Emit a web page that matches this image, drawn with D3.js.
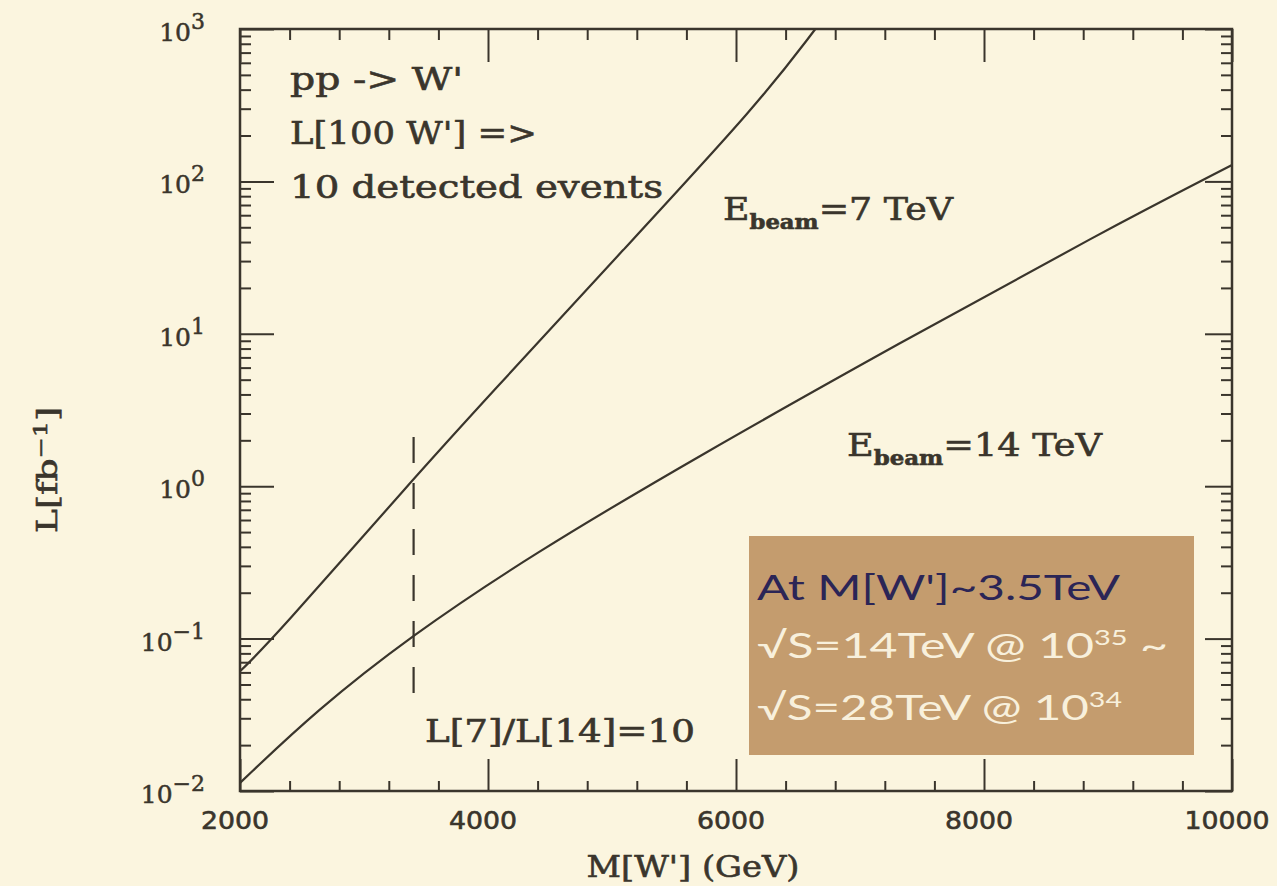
<!DOCTYPE html>
<html>
<head>
<meta charset="utf-8">
<script src="https://cdn.jsdelivr.net/npm/d3@7"></script>
<style>
  html, body { margin: 0; padding: 0; background: #fbf5df; }
  svg { display: block; }
  .tick line { stroke: #3a352c; stroke-width: 2; }
  .domain { display: none; }
</style>
</head>
<body>
<svg id="chart"></svg>
<script>
(function(){
"use strict";

// W' mass (GeV) and luminosity needed (fb^-1)
let mass7  = [2000, 2270, 3390, 3990, 5090, 6190, 6640];
let lumi7  = [0.061, 0.10, 1.1, 3.78, 35.5, 330, 1000];
let mass14 = [2000, 2620, 3370, 4340, 5710, 7320, 8940, 10000];
let lumi14 = [0.0113, 0.034, 0.103, 0.35, 1.6, 8.7, 46, 128];

let xMajor = [2000, 4000, 6000, 8000, 10000];
let xMinor = [2400, 2800, 3200, 3600, 4400, 4800, 5200, 5600, 6400, 6800, 7200, 7600, 8400, 8800, 9200, 9600];
let xTickLabels = ["2000", "4000", "6000", "8000", "10000"];
let yExponents = [-2, -1, 0, 1, 2, 3];
let yTickLabels = ["\u22122", "\u22121", "0", "1", "2", "3"];

let dashMass = 3400;
let dashLumi = [0.04, 2.1];

let W = 1277, H = 886;
let left = 240, right = 1232, top = 29, bottom = 791;
let ink = "#3a352c";

let svg = d3.select("#chart").attr("width", W).attr("height", H);
svg.append("rect").attr("width", W).attr("height", H).attr("fill", "#fbf5df");

let x = d3.scaleLinear().domain([2000, 10000]).range([left, right]);
let y = d3.scaleLog().domain([0.01, 1000]).range([bottom, top]);

let yMajor = yExponents.map(e => Math.pow(10, e));
let yMinor = [];
yExponents.slice(0, -1).forEach(e => d3.range(2, 10).forEach(m => yMinor.push(m * Math.pow(10, e))));

// ticks on all four sides, pointing inward
function ticks(axis, tx, ty){
  svg.append("g").attr("transform", "translate(" + tx + "," + ty + ")").call(axis.tickFormat(""));
}
ticks(d3.axisBottom(x).tickValues(xMajor).tickSize(-32), 0, bottom);
ticks(d3.axisBottom(x).tickValues(xMinor).tickSize(-10), 0, bottom);
ticks(d3.axisTop(x).tickValues(xMajor).tickSize(-33), 0, top);
ticks(d3.axisTop(x).tickValues(xMinor).tickSize(-11), 0, top);
ticks(d3.axisLeft(y).tickValues(yMajor).tickSize(-34), left, 0);
ticks(d3.axisLeft(y).tickValues(yMinor).tickSize(-11), left, 0);
ticks(d3.axisRight(y).tickValues(yMajor).tickSize(-27), right, 0);
ticks(d3.axisRight(y).tickValues(yMinor).tickSize(-11), right, 0);

svg.append("rect")
  .attr("x", left).attr("y", top)
  .attr("width", right - left).attr("height", bottom - top)
  .attr("fill", "none").attr("stroke", ink).attr("stroke-width", 2.5);

// x tick labels
svg.append("g").selectAll("text")
  .data(xMajor)
  .enter().append("text")
    .attr("x", d => x(d) - 5)
    .attr("y", 829)
    .attr("text-anchor", "middle")
    .attr("font-family", "DejaVu Sans")
    .attr("font-size", 24)
    .attr("fill", ink)
    .attr("stroke", ink).attr("stroke-width", 0.6)
    .attr("textLength", (d, i) => xTickLabels[i].length * 17)
    .attr("lengthAdjust", "spacingAndGlyphs")
    .text((d, i) => xTickLabels[i]);

// y tick labels: 10^n
let yl = svg.append("g").selectAll("text")
  .data(yMajor)
  .enter().append("text")
    .attr("x", 205)
    .attr("y", d => y(d) + 12)
    .attr("text-anchor", "end")
    .attr("font-family", "DejaVu Serif")
    .attr("font-size", 25)
    .attr("fill", ink)
    .attr("stroke", ink).attr("stroke-width", 0.5);
yl.append("tspan").text("10");
yl.append("tspan").attr("dy", -12).attr("font-size", 22).text((d, i) => yTickLabels[i]);

// curves
let line = d3.line()
  .x(d => x(d[0]))
  .y(d => y(d[1]))
  .curve(d3.curveBasis);

let plot = svg.append("g");
[[mass7, lumi7], [mass14, lumi14]].forEach(function(s){
  plot.append("path")
    .datum(d3.zip(s[0], s[1]))
    .attr("d", line)
    .attr("fill", "none")
    .attr("stroke", ink)
    .attr("stroke-width", 2.2);
});

plot.append("line")
  .attr("x1", x(dashMass)).attr("x2", x(dashMass))
  .attr("y1", y(dashLumi[1])).attr("y2", y(dashLumi[0]))
  .attr("stroke", ink).attr("stroke-width", 2.2)
  .attr("stroke-dasharray", "26,20");

// text helpers
function label(px, py, size, len, parts, opts){
  opts = opts || {};
  let t = svg.append("text")
    .attr("x", px).attr("y", py)
    .attr("font-family", opts.font || "DejaVu Serif")
    .attr("font-size", size)
    .attr("fill", opts.fill || ink)
    .attr("textLength", len)
    .attr("lengthAdjust", "spacingAndGlyphs");
  if(!opts.font) t.attr("stroke", ink).attr("stroke-width", 0.6);
  if(opts.anchor) t.attr("text-anchor", opts.anchor);
  if(opts.transform) t.attr("transform", opts.transform);
  let shift = 0;
  parts.forEach(function(p){
    let s = t.append("tspan").text(p.t);
    let want = p.dy || 0;
    if(want !== shift) s.attr("dy", want - shift);
    shift = want;
    if(p.size) s.attr("font-size", p.size);
    if(p.bold) s.attr("font-weight", "bold");
  });
  return t;
}

label(290, 90, 32, 173, [{t: "pp -> W'"}]);
label(290, 144, 32, 247, [{t: "L[100 W'] =>"}]);
label(290, 198, 32, 373, [{t: "10 detected events"}]);

label(723, 220, 32, 230, [{t: "E"}, {t: "beam", dy: 9, size: 20, bold: true}, {t: "=7 TeV"}]);
label(847, 456, 32, 255, [{t: "E"}, {t: "beam", dy: 9, size: 20, bold: true}, {t: "=14 TeV"}]);
label(425, 742, 31, 270, [{t: "L[7]/L[14]=10"}]);

// axis titles
label(693, 877, 29, 213, [{t: "M[W'] (GeV)"}], {anchor: "middle"});
label(0, 0, 27, 126, [{t: "L[fb"}, {t: "\u22121", dy: -10, size: 19}, {t: "]"}],
      {anchor: "middle", transform: "translate(57,470) rotate(-90)"});

// note box
svg.append("rect")
  .attr("x", 749).attr("y", 536)
  .attr("width", 445).attr("height", 219)
  .attr("fill", "#c49c6e");

let boxFont = {font: "Lato", fill: "#2b2556"};
let boxLight = {font: "Lato", fill: "#f8f0dc"};
label(757, 600, 35, 363, [{t: "At M[W']~3.5TeV"}], boxFont);
label(757, 658, 35, 411, [{t: "\u221AS=14TeV @ 10"}, {t: "35", dy: -13, size: 21}, {t: " ~"}], boxLight);
label(757, 720, 35, 365, [{t: "\u221AS=28TeV @ 10"}, {t: "34", dy: -13, size: 21}], boxLight);

})();
</script>
</body>
</html>
